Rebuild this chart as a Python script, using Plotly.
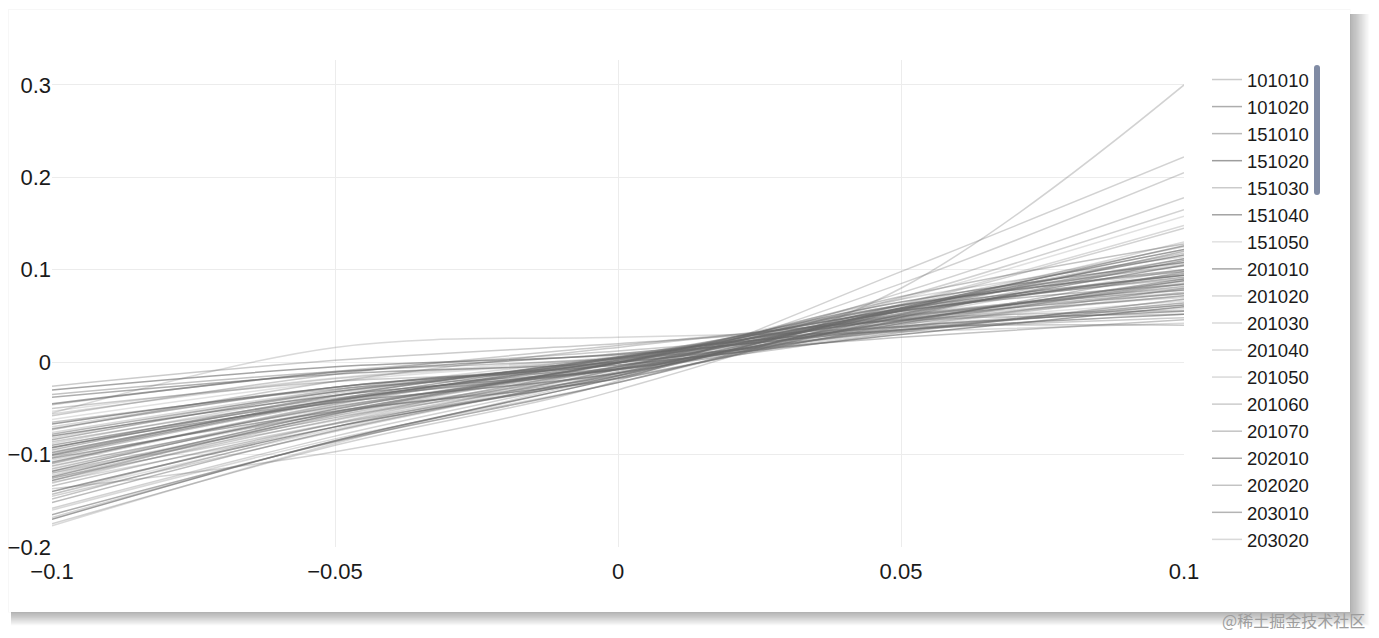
import plotly.graph_objects as go

X_GRID = [-0.1, -0.05, 0.0, 0.05, 0.1]

# y values of each curve at X_GRID, grouped by GICS sector
ENERGY = {
    "101010": [-0.026, 0.002, 0.020, 0.038, 0.040],
    "101020": [-0.090, -0.041, -0.008, 0.044, 0.090],
}
MATERIALS = {
    "151010": [-0.128, -0.056, -0.001, 0.048, 0.082],
    "151020": [-0.067, -0.027, -0.003, 0.030, 0.060],
    "151030": [-0.109, -0.045, 0.005, 0.051, 0.080],
    "151040": [-0.030, -0.005, 0.008, 0.035, 0.052],
    "151050": [-0.143, -0.072, -0.008, 0.068, 0.158],
}
INDUSTRIALS = {
    "201010": [-0.092, -0.044, -0.012, 0.051, 0.105],
    "201020": [-0.130, -0.070, -0.012, 0.063, 0.148],
    "201030": [-0.131, -0.058, -0.001, 0.068, 0.114],
    "201040": [-0.055, 0.016, 0.027, 0.033, 0.042],
    "201050": [-0.070, -0.027, 0.000, 0.041, 0.072],
    "201060": [-0.110, -0.046, 0.003, 0.057, 0.090],
    "201070": [-0.035, -0.010, 0.004, 0.027, 0.046],
    "202010": [-0.093, -0.036, 0.005, 0.047, 0.074],
    "202020": [-0.134, -0.067, -0.017, 0.042, 0.098],
    "203010": [-0.072, -0.027, 0.001, 0.055, 0.092],
    "203020": [-0.118, -0.060, -0.005, 0.055, 0.120],
    "203030": [-0.112, -0.055, -0.014, 0.058, 0.118],
    "203040": [-0.038, -0.013, 0.000, 0.034, 0.062],
    "203050": [-0.095, -0.037, 0.006, 0.056, 0.084],
}
CONSUMER_DISCRETIONARY = {
    "251010": [-0.140, -0.070, -0.015, 0.059, 0.122],
    "251020": [-0.073, -0.021, 0.016, 0.046, 0.056],
    "252010": [-0.158, -0.080, -0.012, 0.075, 0.178],
    "252020": [-0.113, -0.053, -0.008, 0.037, 0.076],
    "252030": [-0.045, -0.011, 0.009, 0.039, 0.055],
    "253010": [-0.097, -0.043, -0.005, 0.033, 0.068],
    "253020": [-0.143, -0.066, -0.005, 0.059, 0.106],
    "255010": [-0.076, -0.030, 0.000, 0.045, 0.078],
    "255020": [-0.115, -0.055, -0.011, 0.049, 0.100],
    "255030": [-0.046, -0.010, 0.012, 0.035, 0.048],
    "255040": [-0.137, -0.097, -0.030, 0.080, 0.300],
}
CONSUMER_STAPLES = {
    "301010": [-0.098, -0.041, 0.000, 0.061, 0.100],
    "302010": [-0.148, -0.070, -0.007, 0.071, 0.128],
    "302020": [-0.078, -0.032, -0.001, 0.035, 0.064],
    "302030": [-0.116, -0.050, -0.001, 0.049, 0.084],
    "303010": [-0.050, -0.021, -0.007, 0.032, 0.068],
    "303020": [-0.100, -0.040, 0.004, 0.050, 0.078],
}
HEALTH_CARE = {
    "351010": [-0.152, -0.074, -0.012, 0.056, 0.112],
    "351020": [-0.080, -0.036, -0.007, 0.045, 0.088],
    "351030": [-0.128, -0.062, -0.004, 0.052, 0.112],
    "352010": [-0.118, -0.051, 0.000, 0.065, 0.108],
    "352020": [-0.053, -0.017, 0.006, 0.037, 0.058],
    "352030": [-0.101, -0.042, 0.002, 0.058, 0.094],
}
FINANCIALS = {
    "401010": [-0.160, -0.083, -0.022, 0.052, 0.120],
    "401020": [-0.082, -0.030, 0.006, 0.046, 0.070],
    "402010": [-0.120, -0.058, -0.012, 0.040, 0.088],
    "402020": [-0.056, -0.018, 0.005, 0.049, 0.075],
    "402030": [-0.145, -0.075, -0.010, 0.070, 0.165],
    "403010": [-0.103, -0.043, 0.002, 0.043, 0.072],
}
INFORMATION_TECHNOLOGY = {
    "451010": [-0.165, -0.086, -0.022, 0.056, 0.126],
    "451020": [-0.125, -0.066, -0.008, 0.062, 0.145],
    "451030": [-0.084, -0.032, 0.004, 0.062, 0.098],
    "452010": [-0.122, -0.060, -0.014, 0.061, 0.125],
    "452020": [-0.058, -0.013, 0.018, 0.045, 0.052],
    "452030": [-0.104, -0.053, -0.018, 0.049, 0.110],
    "453010": [-0.168, -0.085, -0.015, 0.085, 0.205],
}
COMMUNICATION_SERVICES = {
    "501010": [-0.170, -0.085, -0.017, 0.057, 0.116],
    "501020": [-0.086, -0.039, -0.008, 0.038, 0.080],
    "502010": [-0.124, -0.054, -0.001, 0.055, 0.094],
    "502020": [-0.062, -0.021, 0.004, 0.041, 0.066],
    "502030": [-0.175, -0.090, -0.020, 0.098, 0.222],
}
UTILITIES = {
    "551010": [-0.106, -0.049, -0.007, 0.044, 0.086],
    "551020": [-0.177, -0.088, -0.014, 0.058, 0.108],
    "551030": [-0.120, -0.063, -0.006, 0.058, 0.130],
    "551040": [-0.088, -0.034, 0.004, 0.038, 0.062],
    "551050": [-0.126, -0.056, -0.001, 0.062, 0.104],
}
REAL_ESTATE = {
    "601010": [-0.065, -0.029, -0.008, 0.042, 0.085],
    "601020": [-0.108, -0.048, -0.005, 0.053, 0.096],
}

SECTORS = [ENERGY, MATERIALS, INDUSTRIALS, CONSUMER_DISCRETIONARY,
           CONSUMER_STAPLES, HEALTH_CARE, FINANCIALS, INFORMATION_TECHNOLOGY,
           COMMUNICATION_SERVICES, UTILITIES, REAL_ESTATE]

# line shade cycle (style only)
ALPHA_CYCLE = [0.35, 0.55, 0.45, 0.65, 0.35, 0.6, 0.2, 0.6, 0.25,
               0.25, 0.25, 0.25, 0.35, 0.4, 0.55, 0.4, 0.5, 0.25]

fig = go.Figure()
i = 0
for sector in SECTORS:
    for code, vals in sector.items():
        a = ALPHA_CYCLE[i % len(ALPHA_CYCLE)]
        if max(vals) > 0.14:
            a = min(a, 0.3)
        fig.add_trace(go.Scatter(
            x=X_GRID, y=vals, mode="lines", name=code,
            line=dict(color=f"rgba(105,105,105,{a})", width=1.5, shape="spline"),
        ))
        i += 1

# figure size (page body adds an 8px margin)
W, H = 1363, 622
# plot area in figure pixels
L, R, T, B = 44, 1176, 52, 539
def px(x):
    return (x - L) / (R - L)
def py(y):
    return (B - y) / (B - T)

CARD = (0, 2, 1342, 604)  # x0, y0, x1, y1 in figure pixels
shapes = []
for d in range(1, 17):
    shapes.append(dict(
        type="rect", xref="paper", yref="paper", layer="below",
        x0=px(CARD[0] + 3), y0=py(CARD[3] + d * 0.85),
        x1=px(CARD[2] + d * 1.2), y1=py(CARD[1] + 4),
        fillcolor="rgba(0,0,0,0.019)", line=dict(width=0),
    ))
shapes.append(dict(
    type="rect", xref="paper", yref="paper", layer="below",
    x0=px(CARD[0]), y0=py(CARD[3] + 0.5), x1=px(CARD[2] + 0.5), y1=py(CARD[1] - 1),
    fillcolor="rgba(0,0,0,0.03)", line=dict(width=0),
))
shapes.append(dict(
    type="rect", xref="paper", yref="paper", layer="below",
    x0=px(CARD[0] + 1), y0=py(CARD[3]), x1=px(CARD[2]), y1=py(CARD[1]),
    fillcolor="white", line=dict(width=0),
))

fig.update_layout(
    width=W, height=H, autosize=False,
    margin=dict(l=L, r=W - R, t=T, b=H - B, autoexpand=False),
    paper_bgcolor="white", plot_bgcolor="rgba(0,0,0,0)",
    font=dict(family="Liberation Sans, Arial, sans-serif", color="#1a1a1a"),
    shapes=shapes,
    showlegend=True,
    legend=dict(
        x=px(1199), xanchor="left", y=py(53), yanchor="top",
        font=dict(size=18.5, family="Liberation Sans, Arial, sans-serif", color="#1a1a1a"),
        bgcolor="rgba(0,0,0,0)", borderwidth=0, maxheight=494,
        tracegroupgap=0,
    ),
    xaxis=dict(
        range=[-0.1, 0.1], tick0=0, dtick=0.05, showgrid=True,
        gridcolor="#ececec", gridwidth=1, zeroline=False, showline=False,
        tickfont=dict(size=22), ticks="", ticklabelstandoff=9, automargin=False,
    ),
    yaxis=dict(
        range=[-0.2, 0.327], tick0=0, dtick=0.1, showgrid=True,
        gridcolor="#ececec", gridwidth=1, zeroline=False, showline=False,
        tickfont=dict(size=22), ticks="", automargin=False,
    ),
    annotations=[dict(
        xref="paper", yref="paper", x=px(1359), y=py(612),
        xanchor="right", yanchor="middle", showarrow=False,
        text="@稀土掘金技术社区",
        font=dict(family="Noto Sans CJK SC", size=16, color="#9d9d9d"),
    )],
)

fig.write_html("out.html")
